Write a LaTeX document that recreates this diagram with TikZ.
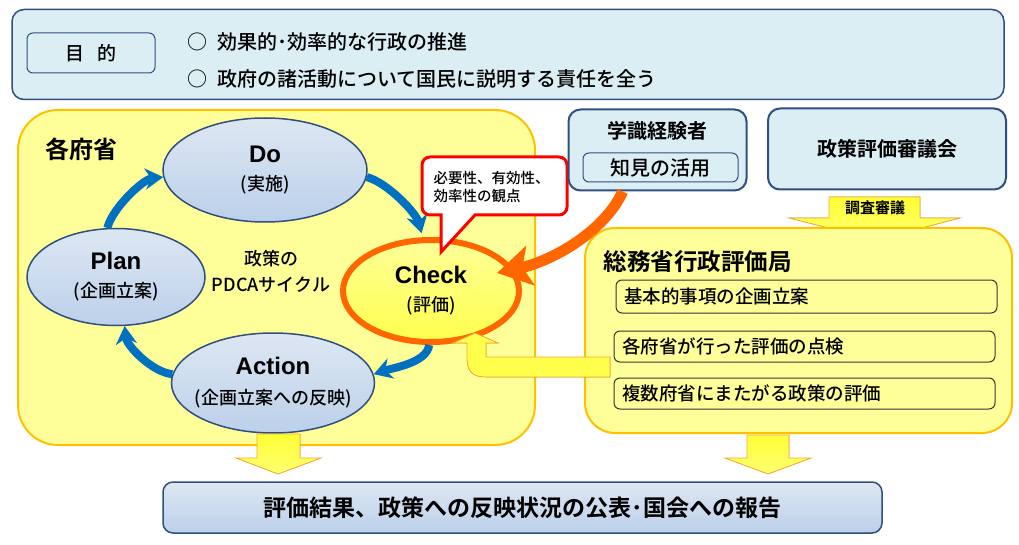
\documentclass[tikz,border=0pt]{standalone}
\usepackage{fontspec}
\setmainfont{Noto Sans CJK JP Medium}[BoldFont={Noto Sans CJK JP Bold}]
\newfontfamily\latinfont{Liberation Sans}
\usetikzlibrary{arrows.meta,calc,shapes.geometric}

\definecolor{boxblue}{HTML}{DBEEF4}
\definecolor{lineblue}{HTML}{2F4F7F}
\definecolor{cycleblue}{HTML}{0070C0}
\definecolor{paleyellow}{HTML}{FFFF99}
\definecolor{goldline}{HTML}{FFC000}
\definecolor{arrowline}{HTML}{F8A830}
\definecolor{checkorange}{HTML}{FF6600}
\definecolor{ellipsetop}{HTML}{DDE7F3}
\definecolor{ellipsebot}{HTML}{BCD0EA}

\begin{document}
\begin{tikzpicture}[x=1pt,y=-1pt,
  bluebox/.style={draw=lineblue,line width=1.5pt,fill=boxblue,rounded corners=12pt,inner sep=0pt},
  goldbox/.style={draw=goldline,line width=2pt,fill=paleyellow,inner sep=0pt},
  taskbox/.style={draw=black!80,line width=1pt,fill=paleyellow,rounded corners=6pt,
    text width=365pt,inner xsep=8pt,minimum height=32pt,align=left,font=\fontsize{18.5}{22}\selectfont},
  phase/.style={ellipse,draw=lineblue,line width=1.5pt,top color=ellipsetop,bottom color=ellipsebot,inner sep=0pt},
  phasetext/.style={align=center,font=\fontsize{18}{22}\selectfont},
  cyclearrow/.style={draw=cycleblue,line width=8pt,-{Stealth[length=18pt,width=21pt]}},
  blockarrow/.style={draw=arrowline,line width=0.8pt,top color=yellow!80,bottom color=yellow!55},
]
\useasboundingbox (0,0) rectangle (1019,545);

% purpose
\node[bluebox,minimum width=992pt,minimum height=90pt] (purpose) at (508,54.5) {};
\node[bluebox,line width=1pt,rounded corners=6pt,minimum width=128pt,minimum height=40pt,
  font=\fontsize{19}{23}\selectfont] (aim) at (91,53) {目\hspace{0.7em}的};
\node[anchor=west,font=\fontsize{20}{24}\selectfont] (goal1) at (184,42) {○\hspace{0.5em}効果的･効率的な行政の推進};
\node[anchor=west,font=\fontsize{20}{24}\selectfont] (goal2) at (184,79) {○\hspace{0.5em}政府の諸活動について国民に説明する責任を全う};

% ministries and the PDCA cycle
\node[goldbox,rounded corners=40pt,minimum width=517pt,minimum height=335pt] (ministries) at (276.5,277.5) {};
\node[font=\bfseries\fontsize{24}{28}\selectfont] (ministrieslabel) at (81,149) {各府省};

\node[phase,minimum width=204pt,minimum height=104pt] (do) at (265,170) {};
\node[phase,minimum width=178pt,minimum height=97pt] (plan) at (116,277) {};
\node[phase,minimum width=203pt,minimum height=100pt] (action) at (273,383) {};
\node[phase,draw=checkorange,line width=6pt,top color=yellow!40,bottom color=yellow!70,
  minimum width=176pt,minimum height=102pt] (check) at (431,291) {};
\node[phasetext] (dotext) at (do) {{\latinfont\bfseries\fontsize{24}{28}\selectfont Do}\\[6pt](実施)};
\node[phasetext] (plantext) at (plan) {{\latinfont\bfseries\fontsize{24}{28}\selectfont Plan}\\[6pt](企画立案)};
\node[phasetext] (actiontext) at (action) {{\latinfont\bfseries\fontsize{24}{28}\selectfont Action}\\[8pt](企画立案への反映)};
\node[phasetext] (checktext) at (check) {{\latinfont\bfseries\fontsize{24}{28}\selectfont Check}\\[6pt](評価)};
\node[align=center,font=\fontsize{18}{26}\selectfont] (cyclelabel) at (271,271) {政策の\\PDCAサイクル};

\draw[cyclearrow] (do.-4) .. controls +(20,5) and +(-5,-20) .. ($(check.100)+(0,-4)$);
\draw[cyclearrow] (check.-92) .. controls +(-2,18) and +(18,-6) .. (action.5);
\draw[cyclearrow] (action.175) .. controls +(-20,-2) and +(2,20) .. (plan.-80);
\draw[cyclearrow] (plan.100) .. controls +(5,-20) and +(-20,2) .. (do.184);

% viewpoint callout
\draw[draw=red,line width=3pt,fill=white,rounded corners=8pt] (422,157) -- (567,157) -- (567,215)
  [sharp corners] -- (475,215) -- (441,252) -- (441,215) [rounded corners=8pt] -- (422,215) -- cycle;
\node[anchor=west,align=left,font=\fontsize{14.5}{18}\selectfont] (viewpoint) at (430,187)
  {必要性、有効性、\\効率性の観点};

% experts and council
\node[bluebox,line width=2pt,minimum width=178pt,minimum height=81pt] (expert) at (657.5,150) {};
\node[font=\bfseries\fontsize{20}{24}\selectfont] (expertlabel) at (657,131) {学識経験者};
\node[bluebox,line width=1pt,rounded corners=6pt,minimum width=155pt,minimum height=29pt,
  font=\fontsize{20}{24}\selectfont] (knowledge) at (660.5,167.5) {知見の活用};
\node[bluebox,line width=2pt,minimum width=238pt,minimum height=81pt,
  font=\bfseries\fontsize{20}{24}\selectfont] (council) at (887,149) {政策評価審議会};

\filldraw[blockarrow] (829,197) -- (920,197) -- (920,218) -- (960,218) -- (876,240) -- (789,218) -- (829,218) -- cycle;
\node[font=\bfseries\fontsize{15}{18}\selectfont] (inquiry) at (875,208) {調査審議};

% evaluation bureau
\node[goldbox,rounded corners=30pt,minimum width=427pt,minimum height=205pt] (bureau) at (798.5,330.5) {};
\node[anchor=west,font=\bfseries\fontsize{23.5}{28}\selectfont] (bureaulabel) at (600,262) {総務省行政評価局};
\node[taskbox,minimum height=33pt] (task1) at (806.5,296.5) {基本的事項の企画立案};
\node[taskbox,minimum height=31pt] (task2) at (804.5,346.5) {各府省が行った評価の点検};
\node[taskbox,minimum height=31pt] (task3) at (804.5,393.5) {複数府省にまたがる政策の評価};

\filldraw[blockarrow,top color=yellow!70,bottom color=yellow!70] (610,377) -- (487,377) .. controls (472,377) and (467,372) .. (467,357)
  -- (467,343) -- (453,343) -- (475,333) -- (498,343) -- (486,343) -- (486,357) -- (610,357) -- cycle;

\draw[draw=checkorange,line width=11pt,-{Stealth[length=34pt,width=40pt,inset=8pt]}]
  (expert.-130) .. controls +(-18,40) and +(55,-12) .. ($(check.east)+(-25,-18)$);

% report
\filldraw[blockarrow] (257,434) -- (300,434) -- (300,458) -- (321,458) -- (278,474) -- (236,458) -- (257,458) -- cycle;
\filldraw[blockarrow] (747,435) -- (789,435) -- (789,458) -- (811,458) -- (768,474) -- (725,458) -- (747,458) -- cycle;
\node[bluebox,rounded corners=10pt,top color=ellipsetop,bottom color=ellipsebot,minimum width=719pt,minimum height=51pt,
  font=\bfseries\fontsize{23}{27}\selectfont] (report) at (522.5,507.5) {評価結果、政策への反映状況の公表･国会への報告};
\end{tikzpicture}
\end{document}
